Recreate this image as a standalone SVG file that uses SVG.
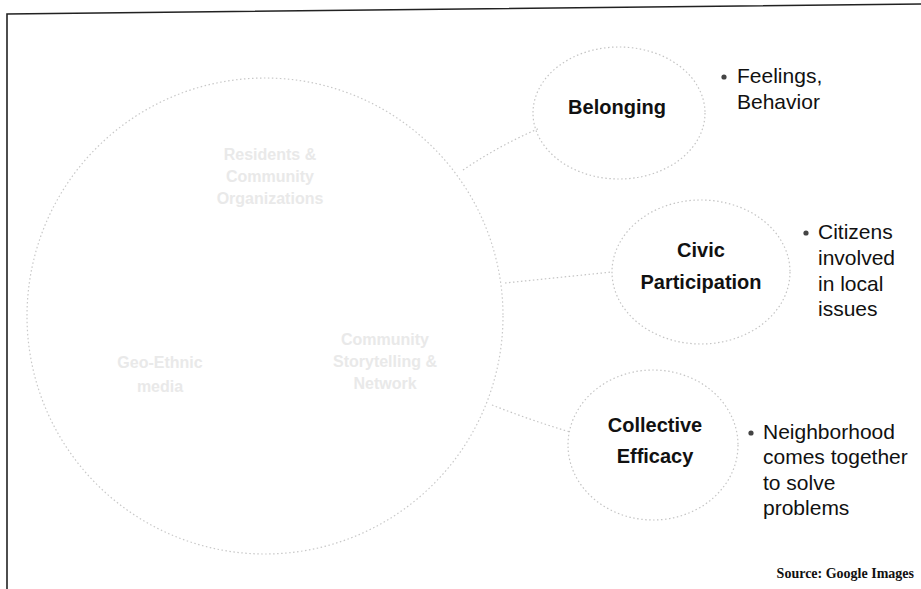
<svg xmlns="http://www.w3.org/2000/svg" width="921" height="589" viewBox="0 0 921 589">
<style>
.frame{fill:none;stroke:#222;stroke-width:1.6}
.big{fill:none;stroke:#c8c8c8;stroke-width:1.2;stroke-dasharray:1.5 2.5}
.node{fill:none;stroke:#c4c4c4;stroke-width:1.2;stroke-dasharray:1.5 2.5}
.conn{fill:none;stroke:#c4c4c4;stroke-width:1.2;stroke-dasharray:1.5 2.5}
.faint{font-family:"Liberation Sans",Arial,sans-serif;font-size:16px;font-weight:bold;fill:#e9e9e9;text-anchor:middle}
.lbl{font-family:"Liberation Sans",Arial,sans-serif;font-size:20px;font-weight:bold;fill:#111;text-anchor:middle}
.desc{font-family:"Liberation Sans",Arial,sans-serif;font-size:21px;fill:#111}
.bul{fill:#444}
.src{font-family:"Liberation Serif","Times New Roman",serif;font-size:14px;font-weight:bold;fill:#111;text-anchor:end}
</style>
<rect x="0" y="0" width="921" height="589" fill="#fff"/>
<path class="frame" d="M7,589 L7,14 L921,4"/>
<g id="storytelling-network">
<circle class="big" cx="265" cy="316" r="238"/>
<text class="faint"><tspan x="270" y="160">Residents &amp;</tspan><tspan x="270" y="182">Community</tspan><tspan x="270" y="204">Organizations</tspan></text>
<text class="faint"><tspan x="385" y="345">Community</tspan><tspan x="385" y="367">Storytelling &amp;</tspan><tspan x="385" y="389">Network</tspan></text>
<text class="faint"><tspan x="160" y="368">Geo-Ethnic</tspan><tspan x="160" y="392">media</tspan></text>
</g>
<g id="connectors">
<path class="conn" d="M463,170 Q500,145 540,128"/>
<path class="conn" d="M505,283 L612,272"/>
<path class="conn" d="M492,405 Q530,420 570,432"/>
</g>
<g id="belonging">
<ellipse class="node" cx="619" cy="113" rx="86" ry="66"/>
<text class="lbl" x="617" y="114">Belonging</text>
<circle class="bul" cx="724" cy="77" r="2.6"/>
<text class="desc"><tspan x="737" y="83">Feelings,</tspan><tspan x="737" y="109">Behavior</tspan></text>
</g>
<g id="civic-participation">
<ellipse class="node" cx="701" cy="272" rx="89" ry="72"/>
<text class="lbl"><tspan x="701" y="257">Civic</tspan><tspan x="701" y="289">Participation</tspan></text>
<circle class="bul" cx="806" cy="233" r="2.6"/>
<text class="desc"><tspan x="818" y="239">Citizens</tspan><tspan x="818" y="265">involved</tspan><tspan x="818" y="291">in local</tspan><tspan x="818" y="316">issues</tspan></text>
</g>
<g id="collective-efficacy">
<ellipse class="node" cx="653" cy="445" rx="85" ry="75"/>
<text class="lbl"><tspan x="655" y="432">Collective</tspan><tspan x="655" y="463">Efficacy</tspan></text>
<circle class="bul" cx="751" cy="433" r="2.6"/>
<text class="desc"><tspan x="763" y="439">Neighborhood</tspan><tspan x="763" y="464">comes together</tspan><tspan x="763" y="490">to solve</tspan><tspan x="763" y="515">problems</tspan></text>
</g>
<text class="src" x="914" y="578">Source: Google Images</text>
</svg>
